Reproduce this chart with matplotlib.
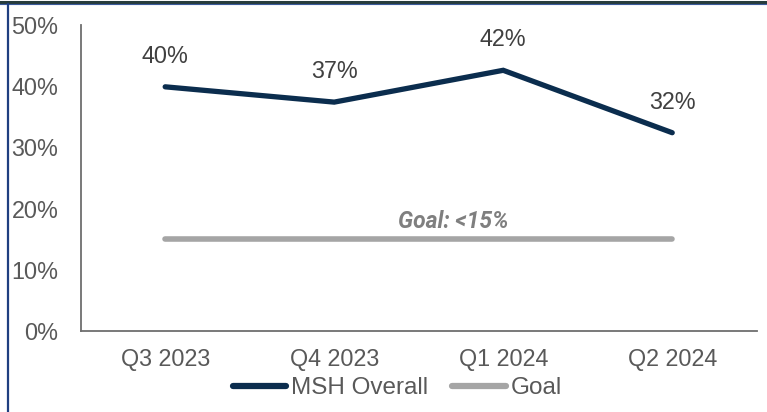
import matplotlib.pyplot as plt
from matplotlib.lines import Line2D

quarters = ['Q3 2023', 'Q4 2023', 'Q1 2024', 'Q2 2024']
msh_overall = [39.9, 37.4, 42.6, 32.4]
goal = [15, 15, 15, 15]
point_labels = ['40%', '37%', '42%', '32%']
y_ticks = [0, 10, 20, 30, 40, 50]

navy = '#0B2D4E'
goal_grey = '#A5A5A5'
text_grey = '#595959'

plt.rcParams['font.family'] = ['Liberation Sans', 'DejaVu Sans']

fig = plt.figure(figsize=(7.67, 4.12), dpi=100)
ax = fig.add_axes([0.1052, 0.1966, 0.8814, 0.7427])

x = list(range(len(quarters)))
ax.plot(x, goal, color=goal_grey, lw=4, solid_capstyle='round', label='Goal', zorder=2)
ax.plot(x, msh_overall, color=navy, lw=3.8, solid_capstyle='round',
        solid_joinstyle='miter', label='MSH Overall', zorder=3)

for xi, yi, lab in zip(x, msh_overall, point_labels):
    ax.annotate(lab, (xi, yi), xytext=(0, 22), textcoords='offset points',
                ha='center', va='center', fontsize=16.8, color='#404040')

ax.annotate('Goal: <15%', (1.5, goal[0]), xytext=(25, 13), textcoords='offset points',
            ha='center', va='center', fontsize=16.5, color='#7F7F7F',
            family='Roboto', fontweight='bold', fontstyle='italic')

ax.set_xlim(-0.5, len(quarters) - 0.5)
ax.set_ylim(0, 50)
ax.set_xticks(x)
ax.set_xticklabels(quarters)
ax.set_yticks(y_ticks)
ax.set_yticklabels([f'{t}%' for t in y_ticks])
ax.tick_params(axis='both', length=0, labelsize=16.8, labelcolor=text_grey)
ax.tick_params(axis='x', pad=12)
ax.tick_params(axis='y', pad=16)

for side in ['top', 'right']:
    ax.spines[side].set_visible(False)
for side in ['left', 'bottom']:
    ax.spines[side].set_color('#6E6E6E')
    ax.spines[side].set_linewidth(1.3)

handles = [Line2D([], [], color=navy, lw=4.5, solid_capstyle='round'),
           Line2D([], [], color=goal_grey, lw=4.5, solid_capstyle='round')]
fig.legend(handles, ['MSH Overall', 'Goal'], loc='center', bbox_to_anchor=(0.518, 0.058),
           ncol=2, frameon=False, fontsize=17.5, labelcolor=text_grey,
           handlelength=2.2, handletextpad=0.2, columnspacing=1.0, borderpad=0)

# frame lines along the top and left edge
fig.add_artist(Line2D([0, 1], [0.996, 0.996], transform=fig.transFigure, color='#263C3C', lw=2.2))
fig.add_artist(Line2D([0, 1], [0.99, 0.99], transform=fig.transFigure, color='#3A5A9A', lw=0.8))
fig.add_artist(Line2D([0.0105, 0.0105], [0, 0.99], transform=fig.transFigure, color='#1F3F80', lw=1.6))

fig.savefig('out.png', dpi=100)
